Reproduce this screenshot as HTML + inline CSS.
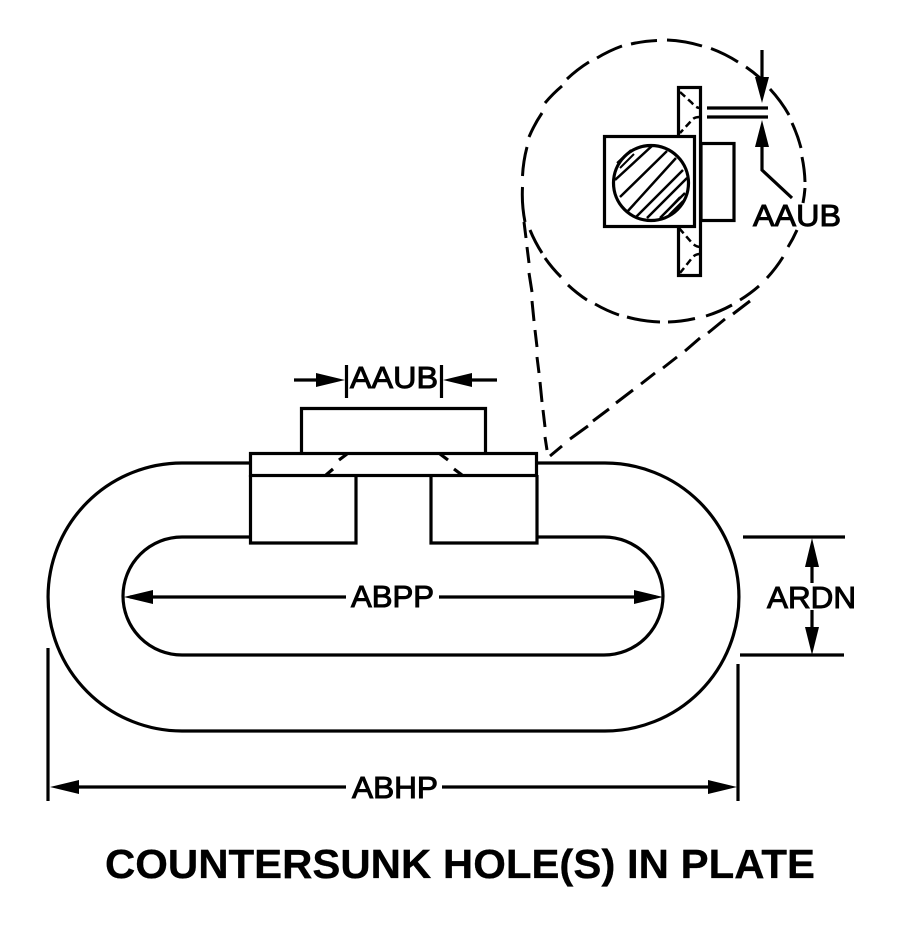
<!DOCTYPE html>
<html><head><meta charset="utf-8"><style>
html,body{margin:0;padding:0;background:#fff}
svg{display:block}
text{font-family:"Liberation Sans",sans-serif;font-size:31px;fill:#000;stroke:#000;stroke-width:1}
</style></head><body>
<svg width="900" height="930" viewBox="0 0 900 930" xmlns="http://www.w3.org/2000/svg">
<g fill="none" stroke="#000" stroke-width="3.200">
<path d="M250 463H182A134 134 0 0 0 182 731H605A134 134 0 0 0 605 463H537"/>
<path d="M250 537H182A59 59 0 0 0 182 655H604A59 59 0 0 0 604 537H537"/>
<rect x="250.500" y="453.500" width="286" height="22"/>
<path d="M250.500 475V543H356V475M431 475V543H537V475M301.500 453V408.500H485.500V453"/>
<path d="M346.500 365V398M441.500 365V398M294 380H320M472 380H497"/>
<path d="M347 454L339 460M333 469L326 475M440 454L448 460M454 469L462 475"/>
<path d="M130 597H346M439 597H656"/>
<path d="M743 537H845M740 655H844M812 550V583M812 610V642"/>
<path d="M48 648V801M738 664V801M60 787H346M442 787H725"/>
<g stroke-width="3">
<path d="M597 58A141 141 0 0 1 622 46M631 44A141 141 0 0 1 657 40.500M667 40A141 141 0 0 1 702 46M711 48.500A141 141 0 0 1 738 62M746 67A141 141 0 0 1 760 78M770 89A141 141 0 0 1 789 115M792 123A141 141 0 0 1 801 148M802 157A141 141 0 0 1 805 182M805 188A141 141 0 0 1 803 203M797 230A141 141 0 0 1 788 247M783 257A141 141 0 0 1 767 278M759 286A141 141 0 0 1 740 300M732 305A141 141 0 0 1 706 316M695 318.500A141 141 0 0 1 668 322M660 322A141 141 0 0 1 627 317M619 315A141 141 0 0 1 595 304M587 300A141 141 0 0 1 568 285M561 277A141 141 0 0 1 545 258M542 253A141 141 0 0 1 530 230M525 222A141 141 0 0 1 522.500 187M522.500 176A141 141 0 0 1 527 147M529 137A141 141 0 0 1 542 113M545 103A141 141 0 0 1 562 86M567 79A141 141 0 0 1 589 62"/>
<path d="M524 222L526 238M527 247L529 263M529 273L532 292M532 301L534 321M535 330L537 347M537 357L539 373M540 382L542 402M543 410L545 427M545 437L547 450"/>
<path d="M550 456L562 446M570 439L588 426M593 421L609 409M616 403L633 390M641 384L655 373M663 368L677 357M685 351L700 338M708 333L725 319M733 314L750 301"/>
</g>
<rect x="678.500" y="87.500" width="22" height="188" fill="#fff"/>
<rect x="701" y="143.500" width="33" height="77"/>
<rect x="604.500" y="136.500" width="90" height="90" fill="#fff"/>
<circle cx="651" cy="183" r="37.500"/>
<path d="M707 108H768M707 117H768M762 50V80M762 145V170L792 198"/>
<path d="M680 92L692 103Q696 108 700 108M700 117Q694 117 692 120L680 133M679 228L692 243Q696 247 700 247M700 254Q695 254 692 258L680 273" stroke-width="2.500" stroke-dasharray="7 4"/>
<path d="M615 180L653 145M620 197L667 151M627 212L676 158M635 218L683 170M647 218L687 178M660 218L685 193" stroke-width="2.500"/>
<path d="M617 163L631 150M620 168L634 154M669 215L683 201M665 213L680 197" stroke-width="2"/>
</g>
<g fill="#000">
<path d="M345 380L316 373V387ZM443 380L472 373V387ZM124 597L153 590V604ZM663 597L634 590V604ZM812 538L805 567H819ZM812 655L805 627H819ZM50 787L79 780V794ZM737 787L708 780V794ZM762 103L755 77H769ZM762 120L755 147H769Z"/>
</g>
<text x="350" y="388" textLength="88" lengthAdjust="spacingAndGlyphs">AAUB</text>
<text x="351" y="607" textLength="83" lengthAdjust="spacingAndGlyphs">ABPP</text>
<text x="767" y="608" textLength="89" lengthAdjust="spacingAndGlyphs">ARDN</text>
<text x="352" y="798" textLength="86" lengthAdjust="spacingAndGlyphs">ABHP</text>
<text x="753" y="226" textLength="88" lengthAdjust="spacingAndGlyphs">AAUB</text>
<text x="105" y="878" textLength="710" lengthAdjust="spacingAndGlyphs" style="font-size:41px;font-weight:700;stroke-width:.3">COUNTERSUNK HOLE(S) IN PLATE</text>
</svg>
</body></html>
